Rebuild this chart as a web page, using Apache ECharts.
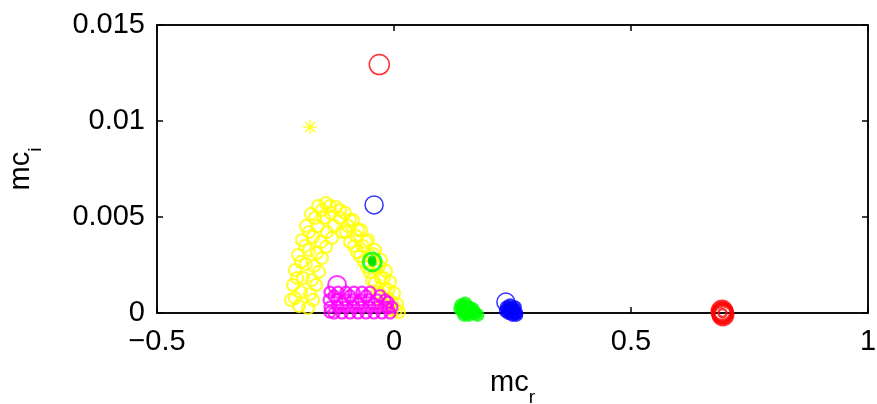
<!DOCTYPE html>
<html>
<head>
<meta charset="utf-8">
<script src="https://cdn.jsdelivr.net/npm/echarts@6/dist/echarts.min.js"></script>
<style>
html,body{margin:0;padding:0;background:#fff;}
#c{width:877px;height:404px;}
</style>
</head>
<body>
<div id="c"></div>
<script>
// ---- data ----
const xTicks = [-0.5, 0, 0.5, 1];
const yTicks = [0, 0.005, 0.01, 0.015];

const yellowPoints = [
  [-0.2173,0.00068],[-0.2131,0.00146],[-0.2089,0.00224],[-0.2025,0.00302],[-0.1941,0.00380],[-0.1857,0.00453],[-0.1751,0.00516],[-0.1603,0.00557],[-0.1435,0.00573],
  [-0.2004,0.00036],[-0.1962,0.00109],[-0.1920,0.00182],[-0.1857,0.00255],[-0.1793,0.00328],[-0.1709,0.00396],[-0.1603,0.00453],[-0.1477,0.00495],[-0.1329,0.00521],
  [-0.1814,0.00026],[-0.1772,0.00099],[-0.1730,0.00172],[-0.1688,0.00245],[-0.1624,0.00313],[-0.1540,0.00370],[-0.1414,0.00422],[-0.1266,0.00453],
  [-0.2089,0.00078],[-0.2046,0.00182],[-0.1962,0.00266],[-0.1878,0.00349],[-0.1793,0.00422],[-0.1667,0.00495],[-0.1519,0.00536],[-0.1350,0.00557],
  [-0.1709,0.00068],[-0.1646,0.00146],[-0.1582,0.00214],[-0.1519,0.00286],[-0.1435,0.00344],[-0.1308,0.00391],
  [-0.1224,0.00552],[-0.1034,0.00521],[-0.0865,0.00484],[-0.0696,0.00432],[-0.0549,0.00380],[-0.0401,0.00328],[-0.0274,0.00276],[-0.0169,0.00219],[-0.0084,0.00161],[0.0000,0.00104],[0.0063,0.00047],[0.0105,0.00005],
  [-0.1139,0.00536],[-0.0928,0.00484],[-0.0759,0.00432],[-0.0591,0.00370],[-0.0443,0.00307],[-0.0316,0.00245],[-0.0211,0.00182],[-0.0127,0.00120],[-0.0042,0.00057],[0.0042,0.00016],
  [-0.1139,0.00495],[-0.0970,0.00453],[-0.0802,0.00401],[-0.0654,0.00349],[-0.0506,0.00297],[-0.0380,0.00240],[-0.0274,0.00182],[-0.0190,0.00125],[-0.0105,0.00068],[-0.0042,0.00016],
  [-0.1013,0.00422],[-0.0844,0.00349],[-0.0717,0.00297],[-0.0570,0.00240],[-0.0464,0.00172],[-0.0338,0.00109],[-0.0232,0.00047],
  [-0.1097,0.00422],[-0.0928,0.00370],[-0.0781,0.00318],[-0.0633,0.00266],[-0.0506,0.00214],[-0.0401,0.00156],[-0.0295,0.00099],[-0.0211,0.00042]
];
const yellowStar = [[-0.177, 0.00969]];

const magentaPoints = [
  [-0.1350,0.00109],[-0.1181,0.00109],[-0.1013,0.00109],[-0.0844,0.00109],[-0.0675,0.00109],[-0.0506,0.00109],
  [-0.1266,0.00089],[-0.0928,0.00089],[-0.0591,0.00089],
  [-0.1371,0.00068],[-0.1203,0.00068],[-0.1034,0.00068],[-0.0865,0.00068],[-0.0696,0.00068],[-0.0527,0.00068],[-0.0359,0.00068],[-0.0190,0.00068],
  [-0.1097,0.00047],[-0.0759,0.00047],[-0.0422,0.00047],
  [-0.1350,0.00031],[-0.1181,0.00031],[-0.1013,0.00031],[-0.0844,0.00031],[-0.0675,0.00031],[-0.0506,0.00031],[-0.0338,0.00031],[-0.0169,0.00031],[-0.0042,0.00031],
  [-0.0127,0.00026],[-0.1350,0.00005],
  [-0.1266,0.0],[-0.1097,0.0],[-0.0928,0.0],[-0.0759,0.0],[-0.0591,0.0],[-0.0422,0.0],[-0.0253,0.0],[-0.0084,0.0],
  [-0.0295,0.00090],[-0.0127,0.00057]
];
const magentaCircle = [[-0.120, 0.00146]];

const greenCircle = [[-0.046, 0.00266]];
const greenCore = [[-0.047, 0.00270],[-0.045, 0.00262],[-0.046, 0.00280]];
const greenCluster = [
  [0.142,0.0004],[0.150,0.0005],[0.158,0.0003],[0.145,0.0001],[0.153,0.0],[0.162,0.0001],
  [0.170,0.0],[0.176,-0.0001],[0.148,-0.0001],[0.166,0.0002],[0.158,-0.0001],[0.140,0.0002]
];

const blueCircle = [[-0.042, 0.00563],[0.236, 0.00057]];
const blueCluster = [
  [0.238,0.0003],[0.245,0.0004],[0.252,0.0002],[0.258,0.0],[0.242,0.0],[0.250,-0.0001],
  [0.245,0.0001],[0.255,0.0003],[0.236,0.0001],[0.258,-0.0001]
];

const redCircle = [[-0.031, 0.01294]];
const redCluster = [[0.693,0.0],[0.692,0.0001],[0.694,-0.0001]];
const redCore = [[0.693,0.0]];

// ---- chart ----
const FONT = 'Liberation Sans, Arial, Helvetica, sans-serif';
const minus = s => String(s).replace('-', '\u2212');
const axisLineStyle = {color:'#000', width:1.5};

const chart = echarts.init(document.getElementById('c'));
function openSeries(data, color, size, lw, z) {
  return {type:'scatter', data, symbol:'circle', symbolSize:size, clip:false, z:z||2,
    itemStyle:{color:'transparent', borderColor:color, borderWidth:lw}, emphasis:{disabled:true}};
}
function filledSeries(data, color, size, z) {
  return {type:'scatter', data, symbol:'circle', symbolSize:size, clip:false, z:z||2,
    itemStyle:{color:color}, emphasis:{disabled:true}};
}
const subRich = {
  m:{fontSize:29, fontFamily:FONT, color:'#000', verticalAlign:'top'},
  s:{fontSize:19, fontFamily:FONT, color:'#000', verticalAlign:'bottom', padding:[20,0,0,0]}
};
chart.setOption({
  animation:false,
  backgroundColor:'#fff',
  grid:{left:157, top:25, right:9, bottom:91, outerBoundsMode:'none', containLabel:false,
    show:true, borderColor:'#000', borderWidth:1.5, backgroundColor:'transparent'},
  xAxis:[{
    type:'value', min:-0.5, max:1, interval:0.5, position:'bottom',
    axisLine:{show:true, onZero:false, lineStyle:axisLineStyle},
    axisTick:{show:true, inside:true, length:6, lineStyle:axisLineStyle},
    axisLabel:{fontSize:29, fontFamily:FONT, color:'#000', margin:14,
      formatter:v => minus(xTicks.find(t => Math.abs(t - v) < 1e-9) ?? v)},
    splitLine:{show:false},
    name:'{m|mc}{s|r}', nameLocation:'middle', nameGap:55,
    nameTextStyle:{rich:subRich}
  },{
    type:'value', min:-0.5, max:1, interval:0.5, position:'top',
    axisLine:{show:true, onZero:false, lineStyle:axisLineStyle},
    axisTick:{show:true, inside:true, length:6, lineStyle:axisLineStyle},
    axisLabel:{show:false}, splitLine:{show:false}
  }],
  yAxis:[{
    type:'value', min:0, max:0.015, interval:0.005, position:'left',
    axisLine:{show:true, onZero:false, lineStyle:axisLineStyle},
    axisTick:{show:true, inside:true, length:6, lineStyle:axisLineStyle},
    axisLabel:{fontSize:29, fontFamily:FONT, color:'#000', margin:12,
      formatter:v => { const t = yTicks.find(t => Math.abs(t - v) < 1e-9); return String(t ?? v); }},
    splitLine:{show:false},
    name:'{m|mc}{s|i}', nameLocation:'middle', nameGap:112, nameRotate:90,
    nameTextStyle:{rich:subRich}
  },{
    type:'value', min:0, max:0.015, interval:0.005, position:'right',
    axisLine:{show:true, onZero:false, lineStyle:axisLineStyle},
    axisTick:{show:true, inside:true, length:6, lineStyle:axisLineStyle},
    axisLabel:{show:false}, splitLine:{show:false}
  }],
  series:[
    openSeries(yellowPoints, '#ffff00', 12, 2.2, 2),
    {type:'scatter', data:yellowStar, symbol:'path://M0,-10L0,10M-10,0L10,0M-7,-7L7,7M-7,7L7,-7', symbolSize:14, clip:false,
      itemStyle:{color:'transparent', borderColor:'#ffff00', borderWidth:1.5}, emphasis:{disabled:true}},
    openSeries(magentaPoints, '#ff00ff', 11, 2.2, 3),
    openSeries(magentaCircle, '#ff00ff', 18, 2, 3),
    openSeries(greenCircle, '#00ff00', 18, 3, 4),
    filledSeries(greenCore, '#00dd00', 8, 4),
    filledSeries(greenCluster, '#00ff00', 14, 4),
    openSeries(blueCircle, '#0000ff', 18, 1.5, 4),
    filledSeries(blueCluster, '#0000ff', 14, 4),
    openSeries(redCircle, '#ff0000', 20, 1.5, 4),
    openSeries(redCluster, '#ff0000', 19, 4, 5),
    openSeries(redCore, '#ff0000', 8, 2.5, 5)
  ]
});
</script>
</body>
</html>
